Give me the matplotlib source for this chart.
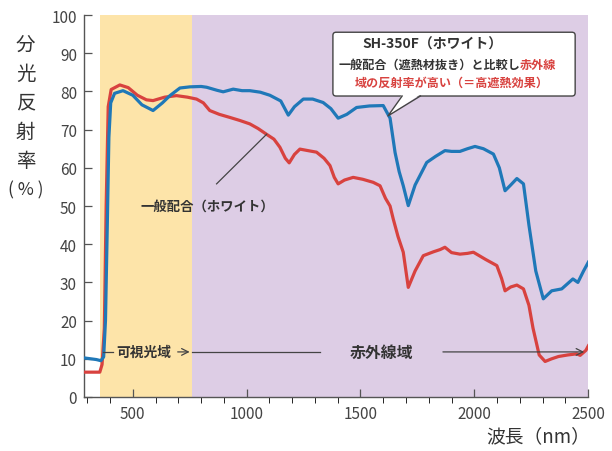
import numpy as np
import matplotlib.pyplot as plt
from matplotlib.patches import FancyBboxPatch, Polygon

plt.rcParams['font.family'] = ['Noto Sans CJK JP', 'DejaVu Sans']

# ---- data ----
wl_blue = [290, 340, 360, 372, 380, 388, 395, 403, 420, 457, 500, 540, 589, 630, 663,
           707, 751, 800, 824, 870, 897, 941, 980, 1014, 1060, 1102, 1150, 1183, 1210,
           1249, 1290, 1336, 1370, 1402, 1440, 1483, 1540, 1600, 1630, 1652, 1670, 1688,
           1710, 1740, 1791, 1830, 1871, 1900, 1937, 1970, 2003, 2040, 2084, 2110, 2135,
           2160, 2187, 2216, 2240, 2270, 2303, 2340, 2384, 2433, 2455, 2480, 2501]
refl_blue = [10.2, 9.8, 9.5, 10.5, 20, 45, 68, 77, 79.5, 80.2, 79, 76.5, 75, 77, 78.9,
             80.9, 81.2, 81.3, 81.1, 80.3, 79.9, 80.6, 80.2, 80.2, 79.8, 79, 77.5, 73.8, 76,
             78, 78, 77.1, 75.5, 73, 74, 75.8, 76.2, 76.3, 73, 64, 59, 55.3,
             50.1, 55.5, 61.4, 63, 64.5, 64.3, 64.3, 65, 65.6, 65, 63.6, 60, 54,
             55.5, 57.2, 55.8, 45, 33, 25.7, 27.8, 28.3, 30.9, 30, 33, 35.3]

wl_red = [290, 355, 365, 375, 383, 392, 405, 443, 480, 520, 560, 589, 640, 692, 740, 780,
          810, 838, 880, 926, 970, 1014, 1050, 1087, 1120, 1146, 1170, 1187, 1210, 1234,
          1270, 1307, 1340, 1366, 1385, 1402, 1430, 1468, 1510, 1556, 1586, 1610, 1630,
          1644, 1665, 1688, 1710, 1740, 1776, 1820, 1850, 1871, 1900, 1937, 1970, 1996,
          2050, 2099, 2120, 2135, 2160, 2187, 2216, 2240, 2258, 2285, 2311, 2340, 2370,
          2410, 2450, 2465, 2490, 2501]
refl_red = [6.5, 6.5, 8.5, 18, 50, 76, 80.5, 81.7, 81, 79, 77.8, 77.6, 78.5, 78.9, 78.5, 78,
            77, 75, 74, 73.2, 72.4, 71.5, 70.3, 68.8, 67.5, 65.4, 62.5, 61.3, 63.5, 64.9,
            64.5, 64.1, 62.5, 60.6, 57.5, 55.8, 56.8, 57.5, 57, 56.2, 55.3, 52, 50,
            46.6, 42, 37.9, 28.7, 33, 37, 38, 38.6, 39.2, 37.8, 37.4, 37.6, 37.9,
            36, 34.4, 31, 27.8, 28.8, 29.3, 28.3, 24, 18, 11, 9.3, 10, 10.6,
            11, 11.3, 10.9, 12.2, 13.4]

visible_range = (355, 760)
ir_range = (760, 2500)

blue_c = '#1f78b8'
red_c = '#d8423f'
dark = '#333333'

fig = plt.figure(figsize=(6.12, 4.52), dpi=100)
ax = fig.add_axes([0.137, 0.1195, 0.824, 0.845])

# background bands
ax.axvspan(*visible_range, color='#fde4a9', lw=0, zorder=0)
ax.axvspan(*ir_range, color='#ddcde5', lw=0, zorder=0)

ax.plot(wl_red, refl_red, color=red_c, lw=2.3, zorder=3, solid_joinstyle='round')
ax.plot(wl_blue, refl_blue, color=blue_c, lw=2.3, zorder=4, solid_joinstyle='round')

ax.set_xlim(285, 2500)
ax.set_ylim(0, 100)
ax.set_xticks([500, 1000, 1500, 2000, 2500])
ax.set_xticks(np.arange(300, 2501, 100), minor=True)
ax.set_yticks(np.arange(0, 101, 10))
ax.tick_params(axis='both', direction='in', labelsize=11, labelcolor='#444444',
               color='#555555', width=0.9)
ax.tick_params(axis='x', which='major', length=6, pad=6)
ax.tick_params(axis='x', which='minor', length=4)
ax.tick_params(axis='y', length=6, pad=5)
for s in ['top', 'right']:
    ax.spines[s].set_visible(False)
for s in ['left', 'bottom']:
    ax.spines[s].set_color('#555555')
    ax.spines[s].set_linewidth(1.0)

# y label, stacked vertically
ylab_chars = ['分', '光', '反', '射', '率']
for i, ch in enumerate(ylab_chars):
    fig.text(0.042, 1 - (45 + 29.2 * i) / 452, ch, fontsize=14, color=dark,
             ha='center', va='center')
fig.text(0.042, 1 - 190 / 452, '( % )', fontsize=12.5, color=dark, ha='center', va='center')

fig.text(0.965, 1 - 437 / 452, '波長（nm）', fontsize=13.5, color=dark,
         ha='right', va='center')

# callout box for SH-350F
box = FancyBboxPatch((1379, 78.8), 2443 - 1379, 95.5 - 78.8,
                     boxstyle='round,pad=0,rounding_size=14', mutation_aspect=0.0596,
                     fc='white', ec='#444444', lw=1.0, zorder=5)
ax.add_patch(box)
ax.add_patch(Polygon([(1683, 79.2), (1763, 79.2), (1621, 73.6)], closed=True,
                     fc='white', ec='none', zorder=6))
ax.plot([1683, 1621, 1763], [78.8, 73.6, 78.8], color='#444444', lw=1.0, zorder=6)

ax.text(1815, 92.4, 'SH-350F（ホワイト）', fontsize=10, fontweight='bold', color=dark,
        ha='center', va='center', zorder=7)
ax.text(2201, 87.2, '一般配合（遮熱材抜き）と比較し', fontsize=8.7, fontweight='bold',
        color=dark, ha='right', va='center', zorder=7)
ax.text(2201, 87.2, '赤外線', fontsize=8.7, fontweight='bold', color=red_c,
        ha='left', va='center', zorder=7)
ax.text(1900, 82.5, '域の反射率が高い（＝高遮熱効果）', fontsize=8.7, fontweight='bold',
        color=red_c, ha='center', va='center', zorder=7)

# label for standard formula
ax.text(826, 50, '一般配合（ホワイト）', fontsize=9.6, fontweight='bold', color=dark,
        ha='center', va='center', zorder=7)
ax.plot([868, 1088], [55.8, 68.8], color='#444444', lw=0.9, zorder=5)

# wavelength region markers
yb = 11.8
ax.text(549, yb, '可視光域', fontsize=9.9, fontweight='bold', color=dark,
        ha='center', va='center', zorder=7)
ax.plot([368, 412], [yb, yb], color='#444444', lw=0.9, zorder=5)
ax.annotate('', xy=(762, yb), xytext=(685, yb),
            arrowprops=dict(arrowstyle='->', color='#444444', lw=0.9,
                            mutation_scale=12), zorder=5)
ax.plot([760, 1322], [yb, yb], color='#444444', lw=0.9, zorder=5)
ax.text(1592, yb, '赤外線域', fontsize=11.4, fontweight='bold', color=dark,
        ha='center', va='center', zorder=7)
ax.annotate('', xy=(2495, yb), xytext=(1850, yb),
            arrowprops=dict(arrowstyle='->', color='#444444', lw=0.9,
                            mutation_scale=12), zorder=5)

plt.savefig('out.png', dpi=100)
